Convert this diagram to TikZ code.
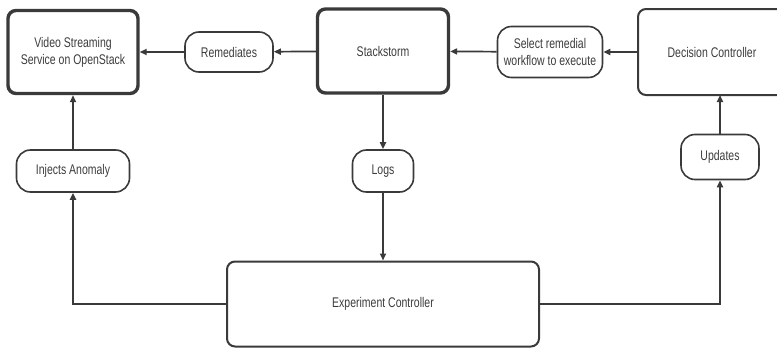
\documentclass[tikz,border=0pt]{standalone}
\usepackage{fontspec}
\setmainfont{Liberation Sans}[FakeStretch=0.75]
\usetikzlibrary{arrows.meta}
\definecolor{ln}{HTML}{3A3A3A}
\definecolor{tx}{HTML}{3C3C3C}
\tikzset{
  box/.style={draw=ln, rounded corners=8pt, line width=2pt, text=tx, align=center, inner sep=0pt},
  heavybox/.style={box, line width=3.4pt},
  pill/.style={draw=ln, rounded corners=14pt, line width=1.6pt, text=tx, align=center, inner sep=0pt},
  conn/.style={draw=ln, line width=1.7pt, -{Triangle[length=7pt,width=6pt]}},
}
\begin{document}
\begin{tikzpicture}[x=1pt,y=-1pt,font=\fontsize{14}{17}\selectfont]
\useasboundingbox (0,0) rectangle (777,348);
\clip (0,0) rectangle (777,348);
\node[heavybox, minimum width=130pt, minimum height=83pt] (video) at (73,52) {Video Streaming\\Service on OpenStack};
\node[pill, minimum width=88pt, minimum height=40pt] (rem) at (229,52) {Remediates};
\node[heavybox, minimum width=131pt, minimum height=84pt] (stack) at (383,51) {Stackstorm};
\node[pill, minimum width=105pt, minimum height=51pt] (sel) at (550,52) {Select remedial\\workflow to execute};
\node[box, minimum width=148pt, minimum height=86pt] (dec) at (712,52) {Decision Controller};
\node[pill, minimum width=113pt, minimum height=42pt] (inj) at (73,171) {Injects Anomaly};
\node[pill, minimum width=61pt, minimum height=42pt] (logs) at (383,171) {Logs};
\node[box, minimum width=312pt, minimum height=85pt] (exp) at (383,304) {Experiment Controller};
\node[pill, minimum width=78pt, minimum height=45pt] (upd) at (720,157) {Updates};
\coordinate (decin) at (720,95);
\draw[conn] (rem) -- (video);
\draw[conn] (stack) -- (rem);
\draw[conn] (sel) -- (stack);
\draw[conn] (dec) -- (sel);
\draw[conn] (stack) -- (logs);
\draw[conn] (logs) -- (exp);
\draw[conn] (inj) -- (video);
\draw[conn] (exp.west) -| (inj.south);
\draw[conn] (exp.east) -| (upd.south);
\draw[conn] (upd.north) -- (decin);
\end{tikzpicture}
\end{document}
